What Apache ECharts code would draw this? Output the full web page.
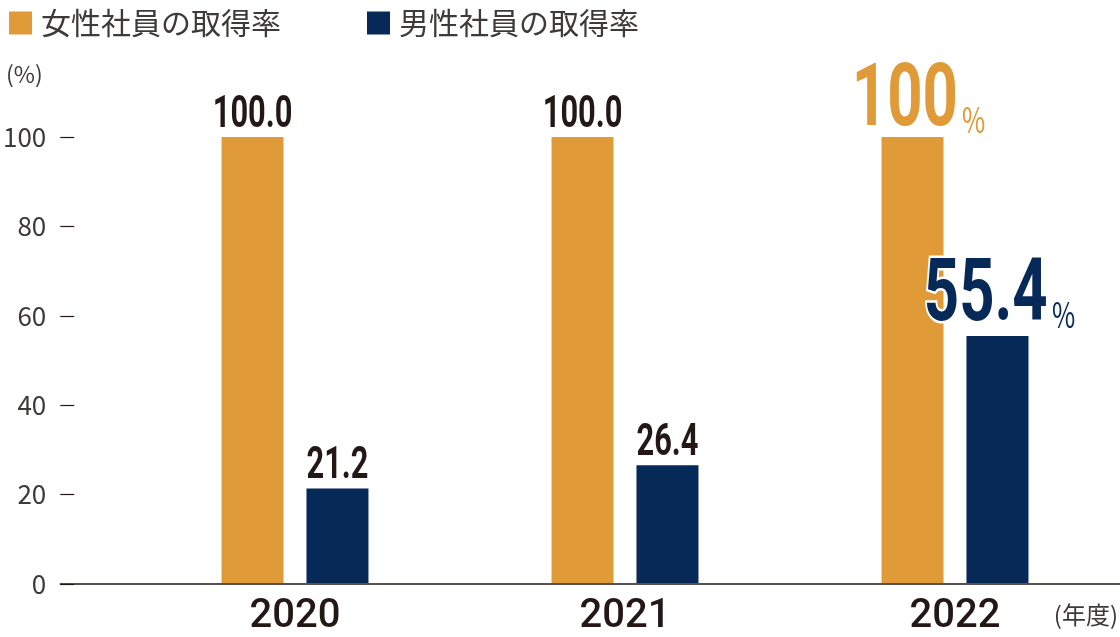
<!DOCTYPE html>
<html><head><meta charset="utf-8">
<script src="https://cdn.jsdelivr.net/npm/echarts@6/dist/echarts.min.js"></script>
<style>html,body{margin:0;padding:0;background:#fff}#c{width:1120px;height:637px}</style>
</head><body><div id="c"></div>
<script>
const years = ['2020', '2021', '2022'];
const femaleRate = [100.0, 100.0, 100];
const maleRate = [21.2, 26.4, 55.4];
const yTicks = [0, 20, 40, 60, 80, 100];
const seriesNames = ['女性社員の取得率', '男性社員の取得率'];

const ORANGE = '#E09A38', NAVY = '#072957', DARK = '#231815', GRAY = '#3e3a39';
const NUMFONT = 'Roboto, "Liberation Sans", sans-serif';
const JPFONT = '"Noto Sans CJK JP", "Noto Sans", sans-serif';
const BAR_W = 62, BAR_GAP = 0.37, SQUEEZE = 0.7;
const HIGHLIGHT_YEAR = 2;

// label data: [yearIndex, value, seriesIndex]
const labelData = [];
years.forEach((y, i) => {
  labelData.push([i, femaleRate[i], 0]);
  labelData.push([i, maleRate[i], 1]);
});

function renderLabel(params, api) {
  const cat = api.value(0), val = api.value(1), side = api.value(2);
  const pt = api.coord([cat, val]);
  const off = (side === 0 ? -1 : 1) * (BAR_W * (1 + BAR_GAP)) / 2;
  const x = pt[0] + off;
  if (cat === HIGHLIGHT_YEAR) {
    const color = side === 0 ? ORANGE : NAVY;
    const txt = side === 0 ? String(val) : val.toFixed(1);
    return {
      type: 'text', x: x + (side === 0 ? 6 : 2), y: pt[1] + (side === 0 ? 10 : 6), scaleX: SQUEEZE, z2: 10,
      style: {
        text: '{big|' + txt + '}{pct|%}', align: 'center', verticalAlign: 'bottom',
        rich: {
          big: {fontFamily: NUMFONT, fontWeight: 'bold', fontSize: 88, fill: color,
                stroke: '#fff', lineWidth: 5, strokeFirst: true, verticalAlign: 'bottom'},
          pct: {fontFamily: JPFONT, fontSize: 36, fill: color, padding: [0, 0, 10, 6],
                stroke: '#fff', lineWidth: 3, verticalAlign: 'bottom'}
        }
      }
    };
  }
  return {
    type: 'text', x: x, y: pt[1] + 1, scaleX: SQUEEZE, z2: 10,
    style: {
      text: val.toFixed(1), align: 'center', verticalAlign: 'bottom',
      fontFamily: NUMFONT, fontWeight: 'bold', fontSize: 44, fill: DARK
    }
  };
}

const chart = echarts.init(document.getElementById('c'));
chart.setOption({
  animation: false,
  legend: {
    left: 4, top: 3, itemWidth: 23, itemHeight: 23, itemGap: 86,
    icon: 'rect',
    data: seriesNames,
    textStyle: {fontFamily: JPFONT, fontSize: 30, color: GRAY, padding: [0, 0, 0, 4]}
  },
  grid: [
    {left: 59, right: 0, top: 137, bottom: 53},
    {left: 130, right: 0, top: 137, bottom: 53}
  ],
  xAxis: [
    {gridIndex: 0, type: 'category', data: years, axisLine: {show: true, lineStyle: {color: DARK, width: 1.5}},
     axisTick: {show: false}, axisLabel: {show: false}},
    {gridIndex: 1, type: 'category', data: years, axisLine: {show: false}, axisTick: {show: false},
     axisLabel: {color: DARK, fontFamily: NUMFONT, fontWeight: 500, fontSize: 40, margin: 14}}
  ],
  yAxis: [
    {gridIndex: 0, type: 'value', min: 0, max: 100, interval: 20,
     axisLine: {show: false}, splitLine: {show: false},
     axisTick: {show: true, inside: true, length: 14, lineStyle: {color: DARK, width: 1.2}},
     axisLabel: {color: GRAY, fontFamily: JPFONT, fontSize: 26, margin: 14}},
    {gridIndex: 1, type: 'value', min: 0, max: 100, interval: 20, show: false}
  ],
  graphic: [
    {type: 'text', left: 6, top: 63, style: {text: '(%)', fontFamily: JPFONT, fontSize: 23, fill: GRAY}},
    {type: 'text', right: 2, top: 603, style: {text: '(年度)', fontFamily: JPFONT, fontSize: 24, fill: GRAY}}
  ],
  series: [
    {name: seriesNames[0], type: 'bar', xAxisIndex: 1, yAxisIndex: 1, data: femaleRate,
     barWidth: BAR_W, barGap: (BAR_GAP * 100) + '%', itemStyle: {color: ORANGE}},
    {name: seriesNames[1], type: 'bar', xAxisIndex: 1, yAxisIndex: 1, data: maleRate,
     barWidth: BAR_W, barGap: (BAR_GAP * 100) + '%', itemStyle: {color: NAVY}},
    {name: 'labels', type: 'custom', xAxisIndex: 1, yAxisIndex: 1, data: labelData,
     renderItem: renderLabel, z: 10, clip: false, silent: true}
  ]
});
</script></body></html>
